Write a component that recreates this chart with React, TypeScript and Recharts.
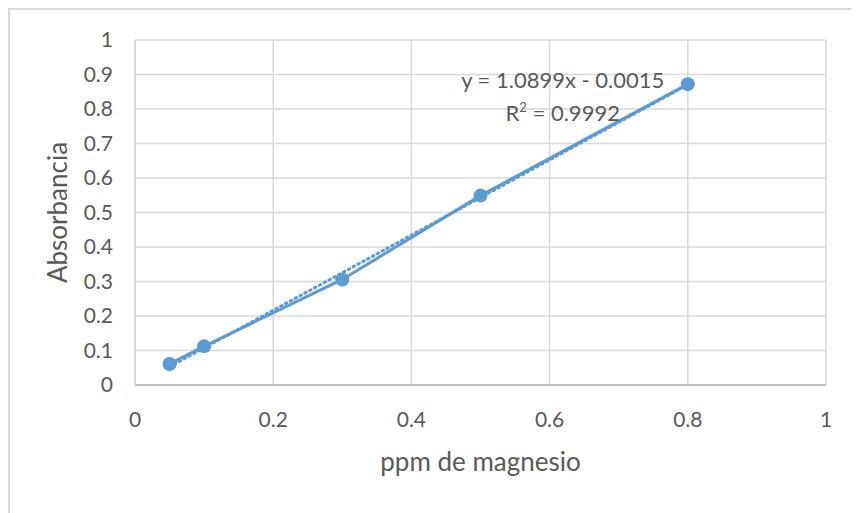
import {
  ComposedChart,
  Line,
  XAxis,
  YAxis,
  CartesianGrid,
  ReferenceLine,
  Label,
} from 'recharts';

// calibration standards (ppm Mg) and measured absorbance
const ppm = [0.05, 0.1, 0.3, 0.5, 0.8];
const absorbance = [0.061, 0.112, 0.306, 0.549, 0.872];

const xTicks = [0, 0.2, 0.4, 0.6, 0.8, 1];
const yTicks = [0, 0.1, 0.2, 0.3, 0.4, 0.5, 0.6, 0.7, 0.8, 0.9, 1];

// linear fit reported on the chart
const slope = 1.0899;
const intercept = -0.0015;
const rSquared = 0.9992;

const BLUE = '#5b9bd5';
const TEXT = '#595959';
const GRID = '#d9d9d9';
const FONT = "Lato, 'Open Sans', sans-serif";

const data = ppm.map((x, i) => ({ x, y: absorbance[i] }));

const fitStart = ppm[0];
const fitEnd = ppm[ppm.length - 1];

const tickStyle = { fill: TEXT, fontSize: 21, fontFamily: FONT };

export default function App() {
  return (
    <div
      style={{
        width: 851,
        height: 505,
        borderTop: `2px solid ${GRID}`,
        borderLeft: `2px solid ${GRID}`,
        boxSizing: 'border-box',
        background: '#fff',
      }}
    >
      <ComposedChart
        width={849}
        height={503}
        data={data}
        margin={{ top: 30, right: 33, left: 0, bottom: 36 }}
      >
        <CartesianGrid stroke={GRID} strokeWidth={1.5} />
        <XAxis
          dataKey="x"
          type="number"
          domain={[0, 1]}
          ticks={xTicks}
          tickFormatter={(v: number) => String(v)}
          axisLine={{ stroke: '#bfbfbf', strokeWidth: 2 }}
          tickLine={false}
          tickSize={0}
          tickMargin={27}
          tick={tickStyle}
          height={92}
        >
          <Label
            value="ppm de magnesio"
            position="insideBottom"
            offset={6}
            style={{ fill: TEXT, fontSize: 26, fontFamily: FONT }}
          />
        </XAxis>
        <YAxis
          type="number"
          domain={[0, 1]}
          ticks={yTicks}
          tickFormatter={(v: number) => String(v)}
          axisLine={{ stroke: GRID, strokeWidth: 1.5 }}
          tickLine={false}
          tickSize={0}
          tickMargin={22}
          tick={tickStyle}
          width={125}
        >
          <Label
            value="Absorbancia"
            angle={-90}
            position="center"
            dx={-15}
            style={{ fill: TEXT, fontSize: 26, fontFamily: FONT }}
          />
        </YAxis>
        <ReferenceLine
          segment={[
            { x: fitStart, y: slope * fitStart + intercept },
            { x: fitEnd, y: slope * fitEnd + intercept },
          ]}
          stroke={BLUE}
          strokeWidth={3}
          strokeDasharray="1.5 4"
          strokeLinecap="round"
          ifOverflow="visible"
        />
        <Line
          dataKey="y"
          stroke={BLUE}
          strokeWidth={3}
          dot={{ r: 7, fill: BLUE, stroke: BLUE, strokeWidth: 0 }}
          activeDot={false}
          isAnimationActive={false}
        />
        <ReferenceLine
          x={0.619}
          stroke="none"
          ifOverflow="visible"
          label={(props: any) => {
            const vb = props.viewBox;
            const cx = vb.x;
            const top = vb.y;
            return (
              <g fill={TEXT} fontFamily={FONT} fontSize={22}>
                <text x={cx} y={top + 48} textAnchor="middle">
                  {`y = ${slope}x - ${Math.abs(intercept).toFixed(4)}`}
                </text>
                <text x={cx} y={top + 81} textAnchor="middle">
                  R<tspan fontSize={13} dy={-9}>2</tspan>
                  <tspan dy={9}>{` = ${rSquared}`}</tspan>
                </text>
              </g>
            );
          }}
        />
      </ComposedChart>
    </div>
  );
}
